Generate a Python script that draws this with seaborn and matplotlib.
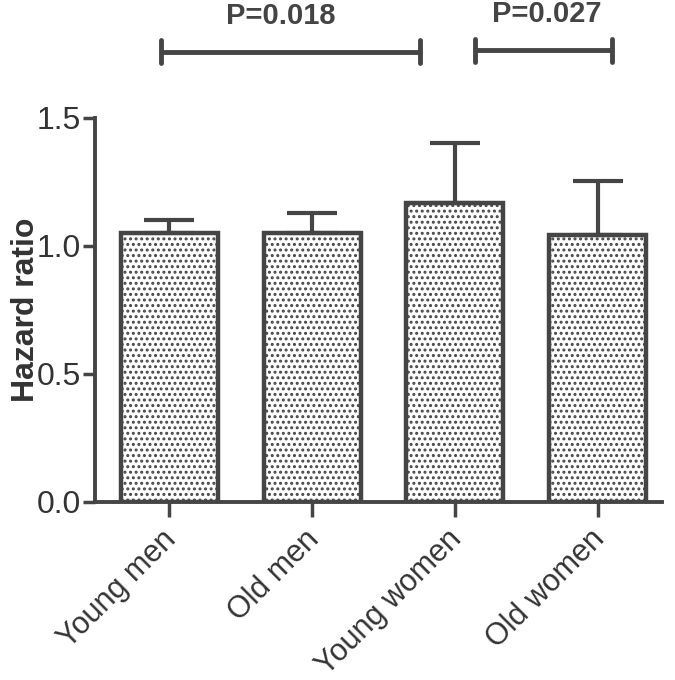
import numpy as np
import pandas as pd
import matplotlib
matplotlib.use('Agg')
import matplotlib.pyplot as plt
import matplotlib.transforms as mtransforms
import seaborn as sns

# data
groups = ['Young men', 'Old men', 'Young women', 'Old women']
hazard = [1.05, 1.05, 1.168, 1.043]
err_up = [0.05, 0.08, 0.235, 0.21]

# significance brackets
brk_x0 = [-0.06, 2.14]
brk_x1 = [1.755, 3.10]
brk_y = [1.758, 1.765]
brk_txt = ['P=0.018', 'P=0.027']
txt_x = [0.78, 2.64]

dark = '#454545'
sns.set_style('ticks')
plt.rcParams['font.family'] = ['Liberation Sans', 'DejaVu Sans']
plt.rcParams['hatch.linewidth'] = 1.4
plt.rcParams['hatch.color'] = '#1a1a1a'

df = pd.DataFrame({'group': groups, 'hr': hazard})

fig = plt.figure(figsize=(6.75, 6.8), dpi=100)
ax = fig.add_axes([0.1407, 0.2618, 0.84, 0.5647])

sns.barplot(data=df, x='group', y='hr', color='white', width=0.68,
            edgecolor=dark, linewidth=3.2, ax=ax)
for p in ax.patches:
    p.set_hatch('...')
    p.set_facecolor('white')

ax.errorbar(np.arange(len(groups)), hazard,
            yerr=[np.zeros(len(groups)), err_up],
            fmt='none', ecolor=dark, elinewidth=3, capsize=18, capthick=3,
            zorder=1)

ax.set_xlim(-0.52, 3.45)
ax.set_ylim(0, 1.5)
ax.set_yticks([0.0, 0.5, 1.0, 1.5])
ax.set_yticklabels(['0.0', '0.5', '1.0', '1.5'])
ax.set_xlabel('')
ax.set_ylabel('Hazard ratio', fontsize=23, fontweight='bold', color='#333333')
ax.yaxis.set_label_coords(-0.095, 0.5)
ax.set_xticks(range(len(groups)))
ax.set_xticklabels(groups, rotation=45, ha='right', rotation_mode='anchor')
ax.tick_params(axis='both', colors=dark, width=2.5, labelcolor='#333333')
ax.tick_params(axis='x', length=11, pad=10, labelsize=22)
ax.tick_params(axis='y', length=9, pad=1, labelsize=23)

# nudge the rotated labels up and left, like the original
shift = mtransforms.ScaledTranslation(-0.08, 0.07, fig.dpi_scale_trans)
for lab in ax.get_xticklabels():
    lab.set_transform(lab.get_transform() + shift)

sns.despine(ax=ax)
for s in ['left', 'bottom']:
    ax.spines[s].set_linewidth(2.8)
    ax.spines[s].set_color(dark)

for x0, x1, y, t, tx in zip(brk_x0, brk_x1, brk_y, brk_txt, txt_x):
    ax.plot([x0, x1], [y, y], color=dark, lw=3.5, clip_on=False,
            solid_capstyle='butt')
    for xx in (x0, x1):
        ax.plot([xx, xx], [y - 0.045, y + 0.045], color=dark, lw=3.5,
                clip_on=False, solid_capstyle='round')
    ax.text(tx, y + 0.085, t, ha='center', va='bottom',
            fontsize=21, fontweight='bold', color='#444444', clip_on=False)

fig.savefig('out.png', dpi=100)
